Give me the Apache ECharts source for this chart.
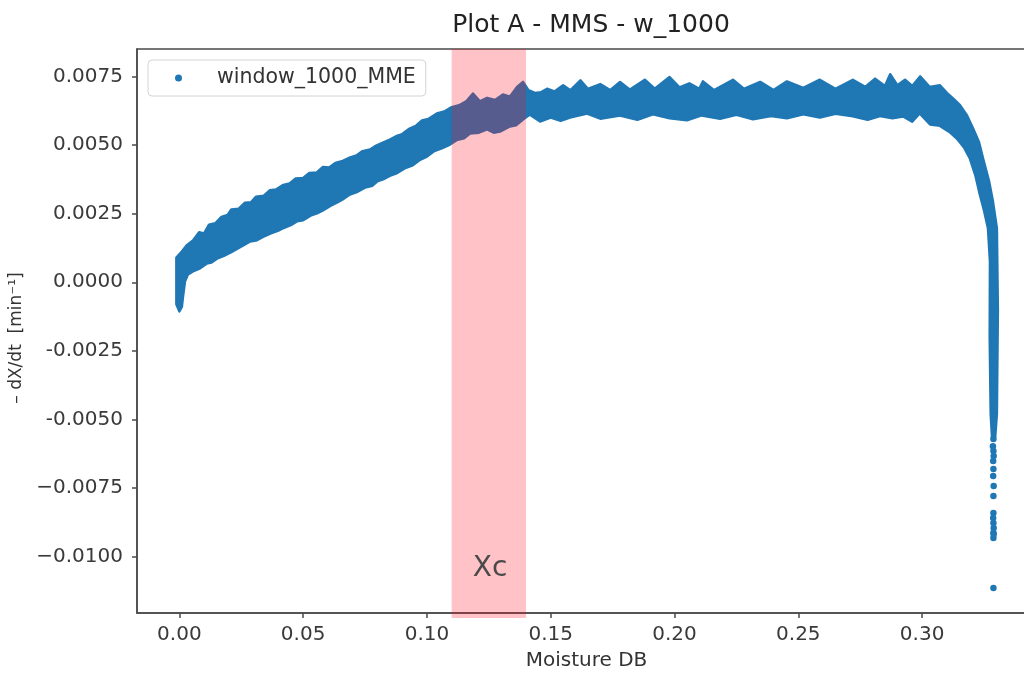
<!DOCTYPE html>
<html><head><meta charset="utf-8">
<script src="https://cdn.jsdelivr.net/npm/echarts@6/dist/echarts.min.js"></script>
<style>html,body{margin:0;padding:0;background:#fff}#c{width:1024px;height:675px}</style>
</head><body><div id="c"></div>
<script>
// Upper edge of the dense point cloud (x = Moisture DB, y = -dX/dt)
const upperX = [-0.0012,0.0010,0.0030,0.0055,0.0080,0.0100,0.0120,0.0145,0.0170,0.0195,0.0210,0.0240,0.0265,0.0290,0.0310,0.0340,0.0365,0.0390,0.0420,0.0445,0.0470,0.0500,0.0525,0.0555,0.0580,0.0605,0.0630,0.0660,0.0690,0.0715,0.0740,0.0770,0.0795,0.0820,0.0850,0.0875,0.0900,0.0930,0.0955,0.0980,0.1005,0.1040,0.1070,0.1100,0.1130,0.1160,0.1186,0.1214,0.1243,0.1275,0.1307,0.1335,0.1364,0.1388,0.1410,0.1436,0.1460,0.1485,0.1515,0.1550,0.1580,0.1620,0.1650,0.1700,0.1740,0.1780,0.1820,0.1880,0.1920,0.1980,0.2020,0.2060,0.2100,0.2115,0.2160,0.2236,0.2280,0.2346,0.2400,0.2454,0.2520,0.2587,0.2650,0.2720,0.2770,0.2810,0.2850,0.2871,0.2900,0.2931,0.2960,0.2992,0.3030,0.3072,0.3100,0.3125,0.3153,0.3180,0.3206,0.3230,0.3246,0.3270,0.3286,0.3302,0.3306,0.3302,0.3295];
const upperY = [0.00090,0.00112,0.00135,0.00152,0.00182,0.00178,0.00210,0.00215,0.00238,0.00245,0.00265,0.00268,0.00290,0.00292,0.00312,0.00315,0.00335,0.00338,0.00355,0.00360,0.00378,0.00380,0.00398,0.00400,0.00420,0.00418,0.00435,0.00442,0.00455,0.00462,0.00478,0.00484,0.00498,0.00508,0.00520,0.00532,0.00540,0.00560,0.00570,0.00590,0.00595,0.00615,0.00622,0.00638,0.00645,0.00660,0.00688,0.00659,0.00672,0.00664,0.00684,0.00676,0.00712,0.00730,0.00700,0.00690,0.00692,0.00705,0.00695,0.00718,0.00700,0.00736,0.00705,0.00722,0.00700,0.00730,0.00702,0.00738,0.00705,0.00748,0.00710,0.00725,0.00705,0.00732,0.00700,0.00738,0.00705,0.00730,0.00700,0.00732,0.00708,0.00738,0.00705,0.00738,0.00712,0.00742,0.00715,0.00758,0.00718,0.00738,0.00715,0.00750,0.00712,0.00718,0.00690,0.00670,0.00645,0.00610,0.00560,0.00510,0.00452,0.00370,0.00295,0.00197,-0.00100,-0.00480,-0.00565];
// Lower edge of the dense point cloud
const lowerX = [-0.0012,0.0000,0.0010,0.0015,0.0023,0.0035,0.0060,0.0084,0.0110,0.0130,0.0152,0.0180,0.0210,0.0240,0.0265,0.0286,0.0310,0.0340,0.0370,0.0400,0.0419,0.0450,0.0475,0.0500,0.0530,0.0556,0.0580,0.0610,0.0640,0.0665,0.0689,0.0720,0.0750,0.0780,0.0800,0.0823,0.0850,0.0880,0.0910,0.0940,0.0970,0.1000,0.1030,0.1060,0.1093,0.1120,0.1150,0.1174,0.1210,0.1243,0.1270,0.1295,0.1335,0.1360,0.1388,0.1416,0.1457,0.1500,0.1540,0.1578,0.1647,0.1700,0.1780,0.1850,0.1913,0.1980,0.2050,0.2110,0.2184,0.2250,0.2317,0.2390,0.2454,0.2520,0.2587,0.2650,0.2720,0.2780,0.2830,0.2880,0.2923,0.2960,0.2990,0.3032,0.3072,0.3110,0.3140,0.3170,0.3193,0.3215,0.3233,0.3250,0.3266,0.3274,0.3273,0.3277,0.3283];
const lowerY = [-0.00080,-0.00106,-0.00090,-0.00050,0.00004,0.00029,0.00042,0.00051,0.00068,0.00072,0.00086,0.00096,0.00110,0.00125,0.00138,0.00149,0.00152,0.00166,0.00178,0.00188,0.00197,0.00208,0.00222,0.00226,0.00243,0.00251,0.00262,0.00278,0.00292,0.00305,0.00320,0.00330,0.00345,0.00352,0.00368,0.00375,0.00388,0.00398,0.00415,0.00425,0.00445,0.00458,0.00478,0.00488,0.00502,0.00518,0.00525,0.00542,0.00545,0.00557,0.00545,0.00549,0.00568,0.00572,0.00593,0.00611,0.00586,0.00600,0.00588,0.00600,0.00615,0.00596,0.00608,0.00592,0.00612,0.00598,0.00590,0.00608,0.00596,0.00610,0.00594,0.00606,0.00598,0.00612,0.00600,0.00614,0.00605,0.00592,0.00606,0.00598,0.00604,0.00585,0.00615,0.00575,0.00570,0.00548,0.00524,0.00490,0.00451,0.00390,0.00320,0.00262,0.00197,0.00076,-0.00200,-0.00480,-0.00575];
// Sparse points at the end of the run
const tailX = [0.3288,0.3286,0.3288,0.3289,0.3287,0.3288,0.3287,0.3289,0.3288,0.3288,0.3287,0.3288,0.3289,0.3288,0.3288,0.3289,0.3288];
const tailY = [-0.00571,-0.00597,-0.00615,-0.00633,-0.00651,-0.00680,-0.00706,-0.00742,-0.00779,-0.00841,-0.00859,-0.00877,-0.00895,-0.00913,-0.00932,-0.00918,-0.01114];
const seriesName = 'window_1000_MME';
const xcBand = [0.11, 0.14];
const xcLabel = ['Xc', 0.1255, -0.01045];
const xTicks = [0, 0.05, 0.10, 0.15, 0.20, 0.25, 0.30];
const xTickLabels = ['0.00','0.05','0.10','0.15','0.20','0.25','0.30'];
const yTicks = [-0.01, -0.0075, -0.005, -0.0025, 0, 0.0025, 0.005, 0.0075];
const yTickLabels = ['\u22120.0100','\u22120.0075','-0.0050','-0.0025','0.0000','0.0025','0.0050','0.0075'];
const xRange = [-0.0171, 0.3460];
const yRange = [-0.01205, 0.0085];

const FONT = 'DejaVu Sans';
const BLUE = '#1f77b4';
function lab(ticks, labels){ return v => { for (let i=0;i<ticks.length;i++) if (Math.abs(v-ticks[i])<1e-9) return labels[i]; return ''; }; }

const chart = echarts.init(document.getElementById('c'), null, {renderer:'canvas'});
chart.setOption({
  animation:false,
  backgroundColor:'#fff',
  title:{text:'Plot A - MMS - w_1000', left:586, top:8, textAlign:'center',
    textStyle:{fontFamily:FONT, fontSize:25, fontWeight:'normal', color:'#222'}},
  legend:{data:[seriesName], left:148, top:60, icon:'circle', itemWidth:7, itemHeight:7,
    padding:[6,10,6,27], borderColor:'#d4d4d4', borderWidth:1, borderRadius:4, backgroundColor:'#fff',
    textStyle:{fontFamily:FONT, fontSize:20.5, color:'#333', padding:[0,0,0,30], lineHeight:24}},
  grid:{left:137, top:49, width:899, height:564, outerBoundsMode:'none', containLabel:false,
    show:true, borderColor:'#4a4a4a', borderWidth:1.5, backgroundColor:'#fff'},
  xAxis:{type:'value', min:xRange[0], max:xRange[1], splitLine:{show:false},
    name:'Moisture DB', nameLocation:'middle', nameGap:38,
    nameTextStyle:{fontFamily:FONT, fontSize:20, color:'#333'},
    axisLine:{show:true, onZero:false, lineStyle:{color:'#4a4a4a', width:1.5}},
    axisTick:{show:true, length:5, customValues:xTicks, lineStyle:{color:'#4a4a4a', width:1.5}},
    axisLabel:{customValues:xTicks, formatter:lab(xTicks,xTickLabels), margin:12, fontFamily:FONT, fontSize:20, color:'#3a3a3a'}},
  yAxis:{type:'value', min:yRange[0], max:yRange[1], splitLine:{show:false},
    name:'\u2013 dX/dt  [min\u207b\u00b9]', nameLocation:'middle', nameGap:96,
    nameTextStyle:{fontFamily:FONT, fontSize:17, color:'#333', padding:[0,14,0,0]},
    axisLine:{show:true, onZero:false, lineStyle:{color:'#4a4a4a', width:1.5}},
    axisTick:{show:true, length:5, customValues:yTicks, lineStyle:{color:'#4a4a4a', width:1.5}},
    axisLabel:{customValues:yTicks, formatter:lab(yTicks,yTickLabels), margin:14, fontFamily:FONT, fontSize:20, color:'#3a3a3a'}},
  series:[
    {type:'custom', name:'cloud', coordinateSystem:'cartesian2d', data:[[0.1,0.005]], z:2, silent:true,
      renderItem:(params, api) => {
        const pts = [];
        for (let i=0;i<upperX.length;i++) pts.push(api.coord([upperX[i], upperY[i]]));
        for (let i=lowerX.length-1;i>=0;i--) pts.push(api.coord([lowerX[i], lowerY[i]]));
        return {type:'polygon', shape:{points:pts}, style:{fill:BLUE, stroke:BLUE, lineWidth:2.5, lineJoin:'round'}};
      }},
    {type:'scatter', name:seriesName, data:tailX.map((x,i)=>[x, tailY[i]]), symbol:'circle', symbolSize:6.5,
      itemStyle:{color:BLUE, opacity:1}, z:3},
    {type:'custom', name:'xc', coordinateSystem:'cartesian2d', data:[[xcLabel[1], xcLabel[2]]], z:10, clip:false, silent:true,
      renderItem:(params, api) => {
        const p0 = api.coord([xcBand[0], yRange[1]]);
        const p1 = api.coord([xcBand[1], yRange[0]]);
        const c = api.coord([xcLabel[1], xcLabel[2]]);
        return {type:'group', children:[
          {type:'rect', shape:{x:p0[0], y:p0[1], width:p1[0]-p0[0], height:p1[1]-p0[1]+5}, style:{fill:'rgba(255,10,30,0.25)'}},
          {type:'text', x:c[0], y:c[1], style:{text:xcLabel[0], font:'28px "DejaVu Sans"', fill:'#4a4a4a', align:'center', verticalAlign:'middle'}}
        ]};
      }}
  ]
});
</script></body></html>
